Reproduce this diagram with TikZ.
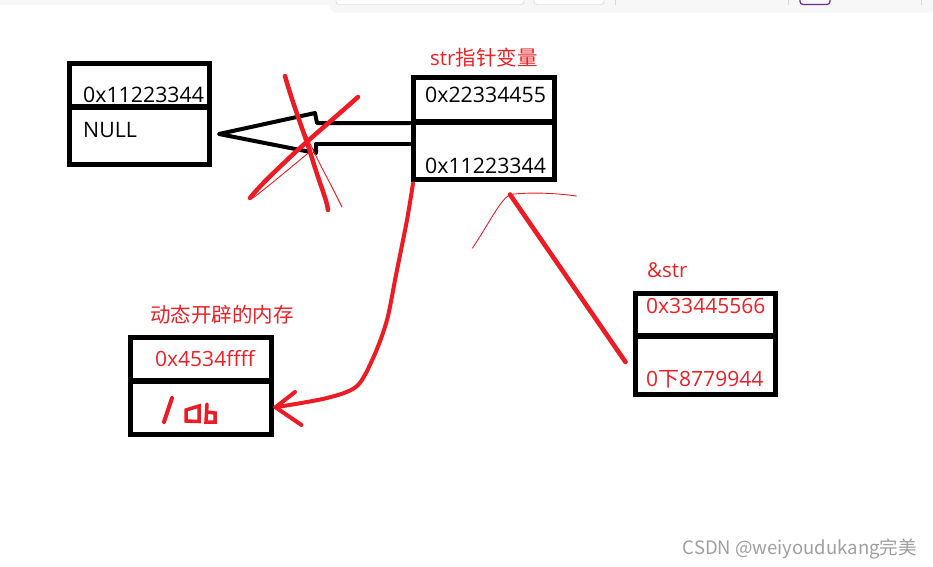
\documentclass[tikz,border=0pt]{standalone}
\usepackage{fontspec}
\newfontfamily\lat{Open Sans}
\newfontfamily\cjk{Noto Sans CJK SC}
\usetikzlibrary{calc}
\definecolor{pred}{RGB}{237,28,36}
\definecolor{tred}{RGB}{236,32,38}
\definecolor{barg}{RGB}{247,247,247}
\definecolor{btnb}{RGB}{200,200,200}
\definecolor{sepg}{RGB}{216,216,216}
\definecolor{purp}{RGB}{110,40,150}
\tikzset{
  membox/.style={draw=black,line width=5pt,line join=miter,rectangle,inner sep=0pt},
  divline/.style={draw=black,line width=6pt,line cap=butt},
  btxt/.style={anchor=base west,inner sep=0pt,font=\lat\fontsize{21.3}{24}\selectfont,text=black},
  rtxt/.style={anchor=base west,inner sep=0pt,font=\lat\fontsize{21}{24}\selectfont,text=tred},
  lbl/.style={anchor=base west,inner sep=0pt,font=\fontsize{20.5}{24}\selectfont,text=tred},
  blk/.style={draw=black,line width=4pt,line join=round,line cap=round},
  pen/.style={draw=pred,line width=4.5pt,line join=round,line cap=round},
  thin/.style={draw=pred,line width=0.9pt,line cap=round},
}
\begin{document}
\begin{tikzpicture}[x=1pt,y=-1pt]
\useasboundingbox (0,0) rectangle (933,566);
% top bar of the screenshot
\fill[barg] (0,0) rectangle (327,4.5);
\fill[barg] (327,0) -- (933,0) -- (933,12.5) -- (335,12.5) to[out=180,in=90] (327,4.5) -- cycle;
\draw[btnb,fill=white,rounded corners=3pt] (336,-4) rectangle (524,4.5);
\draw[btnb,fill=white,rounded corners=3pt] (534,-4) rectangle (604,4.5);
\draw[sepg] (615,0) -- (615,5);
\draw[sepg] (788.5,0) -- (788.5,5);
\draw[sepg] (921.5,0) -- (921.5,5);
\draw[purp,line width=1.2pt,rounded corners=3pt] (800,-4) rectangle (830,4.5);

% boxes
\node[membox,minimum width=140pt,minimum height=101pt] (A) at (139.5,114) {};
\draw[divline] (A.west |- 0,107) -- (A.east |- 0,107);
\node[membox,minimum width=141pt,minimum height=102pt] (B) at (484,128.5) {};
\draw[divline] (B.west |- 0,122) -- (B.east |- 0,122);
\node[membox,minimum width=141pt,minimum height=97.5pt] (C) at (201,385.75) {};
\draw[divline] (C.west |- 0,381) -- (C.east |- 0,381);
\node[membox,minimum width=140pt,minimum height=101pt] (D) at (705,343.5) {};
\draw[divline] (D.west |- 0,336) -- (D.east |- 0,336);

% texts
\node[btxt] (a1) at (83,102) {0x11223344};
\node[btxt] (a2) at (83,137) {NULL};
\node[btxt] (b1) at (425,102.5) {0x22334455};
\node[btxt] (b2) at (425,173) {0x11223344};
\node[lbl] (bl) at (430,65) {{\lat str}\cjk 指针变量};
\node[rtxt] (c1) at (155,366.5) {0x4534ffff};
\node[lbl] (cl) at (150,322) {\cjk 动态开辟的内存};
\node[rtxt] (d1) at (646,313) {0x33445566};
\node[rtxt] (d2) at (646,386) {0{\cjk 下}8779944};
\node[lbl] (dl) at (647,277) {\lat \&str};
\node[anchor=base east,inner sep=0pt,font=\cjk\fontsize{18.5}{22}\selectfont,text=gray!75] (wm) at (917,554) {CSDN @weiyoudukang完美};

% black hollow arrow from B to A
\coordinate (bu) at ($(B.west)+(-1,-5.5)$);
\coordinate (bd) at ($(B.west)+(-1,15.5)$);
\coordinate (tip) at ($(A.east)+(7,20)$);
\draw[blk] (bu) -- (317,123) -- (315,113) -- (tip) -- (308,151.5);
\draw[blk] (315.5,153) -- (315.5,144) -- (bd);
\fill (315.5,151) circle (2.8pt);

% red cross over the arrow
\draw[pen] (285,76) .. controls (293,105) and (305,135) .. (312,158) .. controls (320,185) and (327,200) .. (328,210);
\draw[thin] (293,102) .. controls (305,135) and (320,165) .. (331,185) .. controls (336,195) and (340,203) .. (342,207);
\draw[pen] (358,97) .. controls (330,122) and (300,147) .. (285,162) .. controls (270,176) and (258,188) .. (250,198);
\draw[thin] (253,198) .. controls (270,185) and (290,168) .. (312,150);

% red curve from B to C with arrowhead
\coordinate (cs) at ($(B.south west)+(2,1.5)$);
\coordinate (ce) at ($(C.east)+(1.5,21.5)$);
\draw[pen,line width=4pt] plot[smooth,tension=0.5] coordinates {(cs) (407,220) (396,275) (387,320) (374,356) (357,386) (327,398) (ce)};
\draw[pen,line width=4pt] (ce) -- (295,392);
\draw[pen,line width=4pt] (ce) -- (301.5,425);

% red line from near B to D
\coordinate (ls) at ($(B.south)+(26,12.5)$);
\coordinate (le) at ($(D.west)+(-7,18.5)$);
\draw[pen,line width=4.6pt] (ls) -- (le);
\draw[thin] (ls) .. controls (530,192) and (555,193) .. (576.5,196);
\draw[thin] (ls) .. controls (500,200) and (490,222) .. (472.5,248);

% handwritten content of C
\draw[pen,line width=4pt] (172,398) -- (164,422);
\draw[pen,line width=3.5pt,line join=miter] (186,421) -- (186,410) -- (199,406) -- (199,421.5) -- cycle;
\draw[pen,line width=3.5pt,line join=miter] (207,404) -- (206,422) -- (215,422) -- (215,413) -- (207,412);
\end{tikzpicture}
\end{document}
